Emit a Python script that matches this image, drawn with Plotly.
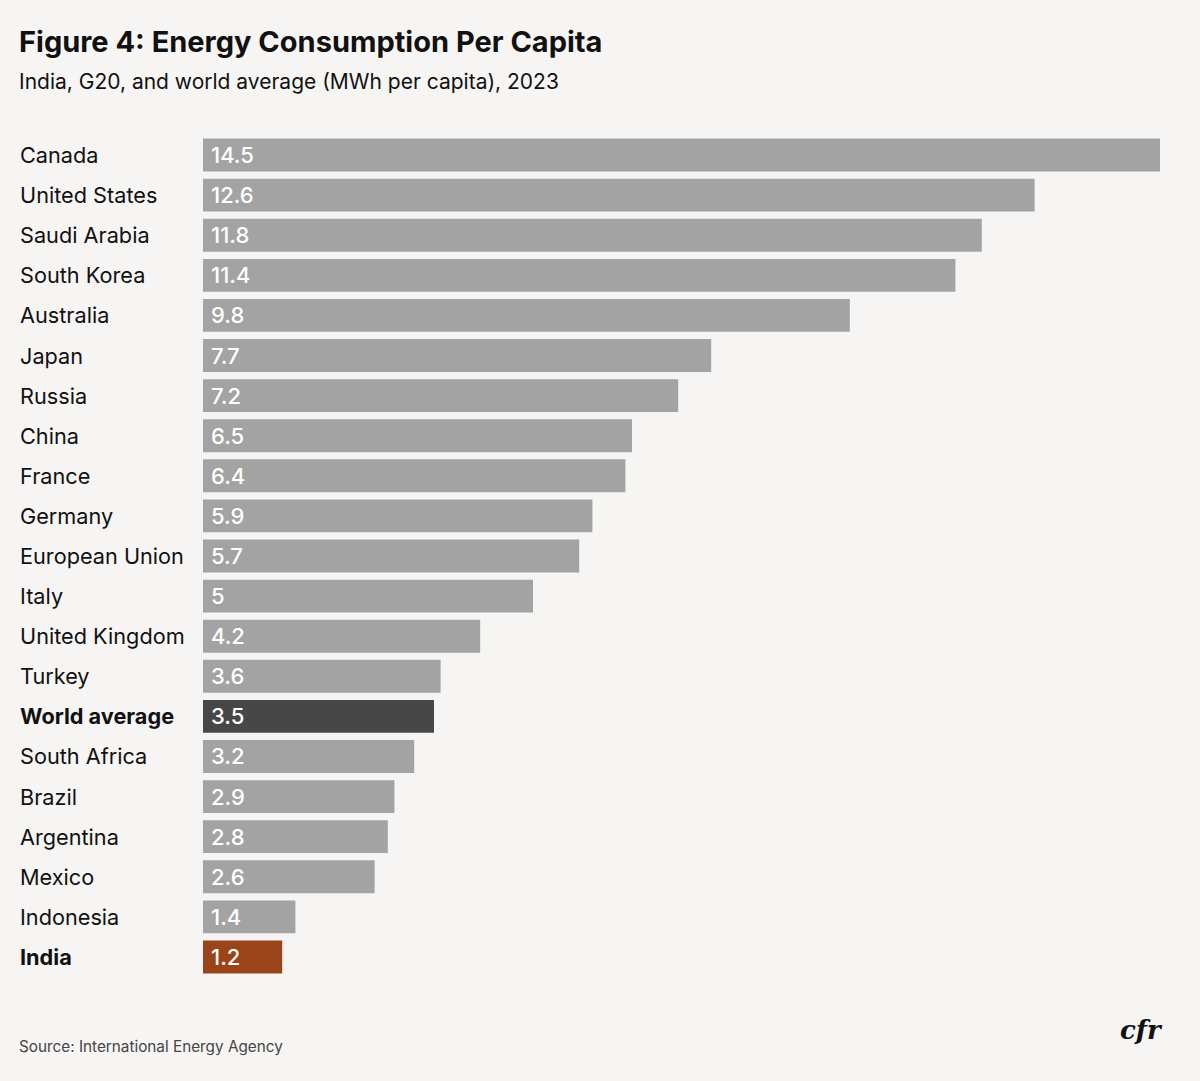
import plotly.graph_objects as go

countries = ["Canada", "United States", "Saudi Arabia", "South Korea", "Australia", "Japan",
             "Russia", "China", "France", "Germany", "European Union", "Italy",
             "United Kingdom", "Turkey", "World average", "South Africa", "Brazil",
             "Argentina", "Mexico", "Indonesia", "India"]
values = [14.5, 12.6, 11.8, 11.4, 9.8, 7.7, 7.2, 6.5, 6.4, 5.9, 5.7, 5, 4.2, 3.6, 3.5,
          3.2, 2.9, 2.8, 2.6, 1.4, 1.2]
highlight = {"World average": "#474747", "India": "#9A4519"}
bold_labels = ["World average", "India"]

GRAY = "#A3A3A3"
BG = "#F6F5F3"
FONT = "Inter"

colors = [highlight.get(c, GRAY) for c in countries]
texts = [f"{v:g}" for v in values]

fig = go.Figure(go.Bar(
    x=values, y=countries, orientation="h",
    marker=dict(color=colors, line=dict(width=0)),
    width=0.82,
    hoverinfo="skip",
))

W, H = 1200, 1081
L, R, T, B = 203, 40, 135, 104
pw = W - L - R
ph = H - T - B


def px_x(x):
    return (x - L) / pw


def px_y(y_from_top):
    return (H - y_from_top - B) / ph


for c, t in zip(countries, texts):
    fig.add_annotation(
        x=px_x(18), xref="paper", y=c, yref="y",
        text=f"<b>{c}</b>" if c in bold_labels else c,
        showarrow=False, xanchor="left", yanchor="middle",
        font=dict(family=FONT, size=21.7, color="#111111"),
    )
    fig.add_annotation(
        x=0, xref="x", y=c, yref="y", xshift=6,
        text=t, showarrow=False, xanchor="left", yanchor="middle",
        font=dict(family=FONT, size=22, color="white", weight=500),
    )

fig.add_annotation(x=px_x(17), xref="paper", y=px_y(41), yref="paper",
                   yanchor="middle", xanchor="left", showarrow=False,
                   text="<b>Figure 4: Energy Consumption Per Capita</b>",
                   font=dict(family=FONT, size=29, color="#111111"))
fig.add_annotation(x=px_x(17), xref="paper", y=px_y(82), yref="paper",
                   yanchor="middle", xanchor="left", showarrow=False,
                   text="India, G20, and world average (MWh per capita), 2023",
                   font=dict(family=FONT, size=21, color="#111111"))
fig.add_annotation(x=px_x(17), xref="paper", y=px_y(1046), yref="paper",
                   yanchor="middle", xanchor="left", showarrow=False,
                   text="Source: International Energy Agency",
                   font=dict(family=FONT, size=15.3, color="#444444"))
fig.add_annotation(x=px_x(1165), xref="paper", y=px_y(1030), yref="paper",
                   yanchor="middle", xanchor="right", showarrow=False,
                   text="<b>cfr</b>",
                   font=dict(family="DejaVu Serif", size=26, color="#111111", style="italic"))

fig.update_layout(
    width=W, height=H,
    margin=dict(l=L, r=R, t=T, b=B, pad=0),
    paper_bgcolor=BG, plot_bgcolor=BG,
    showlegend=False,
    bargap=0.18,
    xaxis=dict(range=[0, 14.5], visible=False, fixedrange=True),
    yaxis=dict(categoryorder="array", categoryarray=countries[::-1],
               showticklabels=False, showgrid=False, zeroline=False,
               range=[-0.5, len(countries) - 0.5], fixedrange=True),
)

fig.write_html(
    "out.html",
    config={"displayModeBar": False},
    post_script="document.body.style.margin='0';document.body.style.padding='0';"
                "document.body.style.background='" + BG + "';"
                "document.documentElement.style.overflow='hidden';",
)
